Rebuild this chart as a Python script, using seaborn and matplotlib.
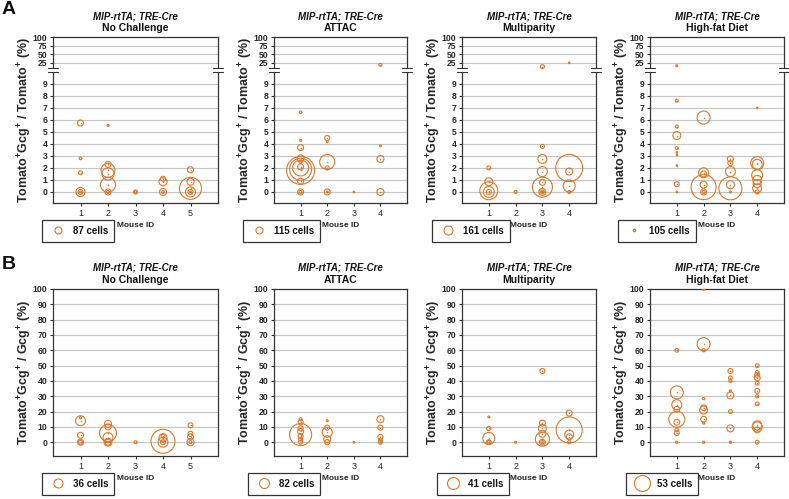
import numpy as np
import matplotlib
matplotlib.use("Agg")
import matplotlib.pyplot as plt
import matplotlib.transforms as mtransforms
from matplotlib.lines import Line2D
from matplotlib.patches import Rectangle
import seaborn as sns

# ---- data: (mouse id, % value, bubble = cells) per panel ----
# A: Tomato+Gcg+ / Tomato+ (%)
a_nc_mouse = [1, 1, 1, 1, 1, 1, 2, 2, 2, 2, 2, 2, 2, 3, 3, 4, 4, 4, 4, 5, 5, 5, 5, 5, 5]
a_nc_pct = [5.75, 2.8, 1.6, 0, 0, 0, 5.55, 2.3, 1.8, 1.5, 0.6, 0, 0, 0, 0,
            1.1, 0.85, 0, 0, 1.85, 0.85, 0.3, 0, 0, 0]
a_nc_cells = [64, 13, 28, 144, 44, 7, 7, 64, 348, 256, 400, 64, 16, 28, 11,
              44, 114, 87, 16, 64, 87, 860, 178, 44, 7]

a_at_mouse = [1, 1, 1, 1, 1, 1, 1, 1, 1, 1, 1, 1, 2, 2, 2, 2, 2, 2, 3, 4, 4, 4, 4]
a_at_pct = [6.65, 4.3, 3.7, 2.8, 2.5, 2.1, 1.8, 1.9, 2.0, 0.9, 0, 0,
            4.5, 4.2, 2.5, 2.0, 0, 0, 0, 19, 3.85, 2.75, 0]
a_at_cells = [15, 9, 84, 115, 21, 84, 1840, 1136, 600, 84, 84, 21,
              59, 9, 528, 38, 84, 9, 5, 21, 9, 115, 115]

a_mp_mouse = [1, 1, 1, 1, 1, 2, 3, 3, 3, 3, 3, 3, 3, 3, 3, 4, 4, 4, 4, 4]
a_mp_pct = [2.0, 0.85, 0.1, 0, 0, 0, 14, 3.8, 2.75, 1.7, 0.8, 0.4, 0, 0, 0,
            25, 2.0, 1.7, 0.5, 0]
a_mp_cells = [32, 127, 644, 240, 50, 18, 32, 32, 161, 199, 72, 795, 97, 32, 8,
              4, 1449, 97, 286, 18]

a_hf_mouse = [1, 1, 1, 1, 1, 1, 1, 1, 1, 1, 2, 2, 2, 2, 2, 2, 2,
              3, 3, 3, 3, 3, 3, 4, 4, 4, 4, 4, 4, 4, 4]
a_hf_pct = [16.6, 7.6, 5.45, 4.7, 3.65, 3.3, 3.1, 2.2, 0.65, 0,
            6.2, 1.6, 1.5, 0.6, 0.4, 0, 0,
            2.75, 2.4, 1.7, 0.6, 0.3, 0,
            7.0, 2.4, 2.3, 1.4, 1.0, 0.7, 0.3, 0]
a_hf_cells = [67, 151, 151, 1075, 151, 38, 38, 38, 420, 38,
              2839, 1680, 605, 823, 10500, 605, 151,
              605, 420, 1680, 1075, 8887, 67,
              38, 2839, 1680, 2033, 1361, 1075, 1361, 269]

# B: Tomato+Gcg+ / Gcg+ (%)
b_nc_mouse = [1, 1, 1, 1, 1, 2, 2, 2, 2, 2, 2, 3, 4, 4, 4, 4, 4, 5, 5, 5, 5, 5]
b_nc_pct = [16, 14, 4.5, 0, 0, 12, 10, 6, 3, 0, 0, 0, 0.6, 3, 4, 0, 0, 11, 5.5, 3.5, 0, 0]
b_nc_cells = [2, 44, 16, 16, 7, 22, 16, 128, 44, 28, 16, 4, 256, 28, 7, 44, 11, 11, 11, 16, 22, 4]

b_at_mouse = [1, 1, 1, 1, 1, 1, 1, 1, 2, 2, 2, 2, 2, 3, 4, 4, 4, 4, 4]
b_at_pct = [15, 13, 9, 5, 7, 4, 2, 0, 14, 9.5, 6.5, 2, 0, 0, 15, 9.5, 3.5, 1, 0]
b_at_cells = [7, 21, 21, 397, 30, 21, 13, 13, 3, 21, 82, 40, 21, 2, 40, 21, 21, 13, 13]

b_mp_mouse = [1, 1, 1, 1, 1, 2, 3, 3, 3, 3, 3, 3, 3, 4, 4, 4, 4, 4]
b_mp_pct = [16.5, 9, 2.5, 0, 0, 0, 46.5, 12.5, 9, 5.5, 2, 0, 0, 19, 8, 5, 3.5, 0]
b_mp_cells = [1, 5, 41, 7, 3, 1, 7, 10, 18, 14, 56, 10, 3, 10, 193, 23, 10, 3]

b_hf_mouse = [1] * 9 + [2] * 9 + [3] * 8 + [4] * 12
b_hf_pct = [60, 32.5, 24.5, 21.5, 15, 13, 8, 6, 0,
            100, 64, 60, 28.5, 22.5, 21, 15, 12.5, 0,
            46.5, 42, 40, 33.5, 30.5, 20, 9, 0,
            50, 45.5, 44, 42, 38.5, 33.5, 30, 25, 11, 10, 8, 0]
b_hf_cells = [3, 35, 21, 7, 53, 7, 3, 5, 1,
              1, 35, 2, 1, 7, 13, 7, 1, 1,
              5, 3, 2, 1, 10, 3, 10, 1,
              3, 3, 5, 7, 3, 5, 2, 3, 17, 21, 7, 3]

groups = ["No Challenge", "ATTAC", "Multiparity", "High-fat Diet"]
a_legend_cells = [87, 115, 161, 105]
b_legend_cells = [36, 82, 41, 53]

ORANGE = "#d9782d"
DARK = "#333333"

sns.set_theme(style="white")
plt.rcParams["font.family"] = ["Liberation Sans", "DejaVu Sans"]
plt.rcParams["mathtext.fontset"] = "custom"
plt.rcParams["mathtext.rm"] = "Liberation Sans:bold"
plt.rcParams["mathtext.bf"] = "Liberation Sans:bold"
plt.rcParams["mathtext.it"] = "Liberation Sans:bold:italic"
plt.rcParams["text.color"] = "#111111"

W, H = 789, 499
fig = plt.figure(figsize=(W / 100, H / 100), dpi=100)

# broken axis for row A: 0-10 linear, 10-100 squeezed
GAP = 0.333
K = 0.0287


def fwd(y):
    y = np.asarray(y, dtype=float)
    return np.where(y <= 10, y, 10 + GAP + (y - 10) * K)


def inv(u):
    u = np.asarray(u, dtype=float)
    return np.where(u <= 10 + GAP / 2, u, 10 + (u - 10 - GAP) / K)


def draw_panel(box, mouse, pct, cells, group, ref_cells, ref_px, broken, leg_xy, ylabel):
    left, top, right, bottom = box
    ax = fig.add_axes([left / W, 1 - bottom / H, (right - left) / W, (bottom - top) / H])
    if broken:
        ax.set_yscale("function", functions=(fwd, inv))
    ref_pt = ref_px * 0.72
    sizes = [ref_pt ** 2 * c / ref_cells for c in cells]
    sns.scatterplot(x=mouse, y=pct, s=sizes, facecolor="none", edgecolor=ORANGE,
                    linewidth=0.8, ax=ax, zorder=3, legend=False)
    sns.scatterplot(x=mouse, y=pct, s=1.2, color=ORANGE, linewidth=0, ax=ax,
                    zorder=4, legend=False)

    n = max(mouse)
    ax.set_xlim(0, n + 1)
    ax.set_xticks(range(1, n + 1))
    ax.set_xticklabels([str(i) for i in range(1, n + 1)], fontsize=6.5)
    if broken:
        ticks = list(range(0, 10)) + [25, 50, 75, 100]
        ax.set_ylim(-0.92, 100)
    else:
        ticks = list(range(0, 101, 10))
        ax.set_ylim(-9, 100)
    ax.set_yticks(ticks)
    ax.set_yticklabels([str(t) for t in ticks], fontsize=6.2, fontweight="bold")
    ax.tick_params(left=True, bottom=True, direction="out", length=2.5, width=0.8,
                   color=DARK, pad=1.5)
    ax.grid(False)
    ax.yaxis.grid(True, color="#c4c4c4", lw=0.8)
    ax.set_axisbelow(True)
    for sp in ax.spines.values():
        sp.set_visible(True)
        sp.set_color(DARK)
        sp.set_linewidth(0.9)

    ax.set_ylabel(ylabel, fontsize=9, fontweight="bold", va="center")
    ax.yaxis.set_label_coords(0, 0.5, transform=mtransforms.offset_copy(
        ax.transAxes, fig=fig, x=-28 * 0.72, y=0, units="points"))
    ax.set_xlabel("Mouse ID", fontsize=6, fontweight="bold", labelpad=3)

    ax.annotate("MIP-rtTA; TRE-Cre", xy=(0.5, 1), xycoords="axes fraction",
                xytext=(0, 21 * 0.72), textcoords="offset points", ha="center",
                va="center", fontsize=7, fontweight="bold", fontstyle="italic")
    ax.annotate(group, xy=(0.5, 1), xycoords="axes fraction",
                xytext=(0, 9 * 0.72), textcoords="offset points", ha="center",
                va="center", fontsize=7.5, fontweight="bold")

    if broken:
        trans = mtransforms.blended_transform_factory(ax.transAxes, ax.transData)
        dx = 5.0 / (right - left)
        for xs in (0, 1):
            ax.add_patch(Rectangle((xs - dx, 10), 2 * dx, 0.01, transform=trans,
                                   facecolor="white", edgecolor="none",
                                   clip_on=False, zorder=5))
            for yb in (10, 10.01):
                ax.plot([xs - dx, xs + dx], [yb, yb], transform=trans, color=DARK,
                        lw=0.8, clip_on=False, zorder=6)
        ax.set_ylim(-0.92, 100)

    handle = Line2D([0], [0], marker="o", ls="none", mfc="none", mec=ORANGE,
                    mew=0.8, ms=ref_pt)
    leg = ax.legend([handle], [f"{ref_cells} cells"], loc="upper left",
                    bbox_to_anchor=(leg_xy[0] / W, 1 - leg_xy[1] / H),
                    bbox_transform=fig.transFigure, frameon=True, fancybox=False,
                    framealpha=1, edgecolor=DARK, borderaxespad=0, borderpad=0.6,
                    handlelength=2.0, handletextpad=0.6,
                    prop={"weight": "bold", "size": 7})
    leg.get_frame().set_linewidth(0.9)
    return ax


cols = [(53, 218), (274, 407), (462, 596), (650, 784)]
a_data = [(a_nc_mouse, a_nc_pct, a_nc_cells), (a_at_mouse, a_at_pct, a_at_cells),
          (a_mp_mouse, a_mp_pct, a_mp_cells), (a_hf_mouse, a_hf_pct, a_hf_cells)]
b_data = [(b_nc_mouse, b_nc_pct, b_nc_cells), (b_at_mouse, b_at_pct, b_at_cells),
          (b_mp_mouse, b_mp_pct, b_mp_cells), (b_hf_mouse, b_hf_pct, b_hf_cells)]
a_ref_px = [7, 7, 9, 2.5]
b_ref_px = [9, 10, 12, 16]
a_leg = [(42, 220), (243, 220), (432, 220), (618, 220)]
b_leg = [(42, 473), (248, 473), (437, 473), (626, 473)]

a_label = r"Tomato$^{+}$Gcg$^{+}$ / Tomato$^{+}$ (%)"
b_label = r"Tomato$^{+}$Gcg$^{+}$ / Gcg$^{+}$ (%)"

for i in range(4):
    l, r = cols[i]
    m, p, c = a_data[i]
    draw_panel((l, 37, r, 203), m, p, c, groups[i], a_legend_cells[i], a_ref_px[i],
               True, a_leg[i], a_label)
    m, p, c = b_data[i]
    draw_panel((l, 289, r, 456), m, p, c, groups[i], b_legend_cells[i], b_ref_px[i],
               False, b_leg[i], b_label)

fig.text(2 / W, 1 - 1 / H, "A", fontsize=14, fontweight="bold", va="top", ha="left")
fig.text(2 / W, 1 - 256 / H, "B", fontsize=14, fontweight="bold", va="top", ha="left")

fig.savefig("out.png", dpi=100)
